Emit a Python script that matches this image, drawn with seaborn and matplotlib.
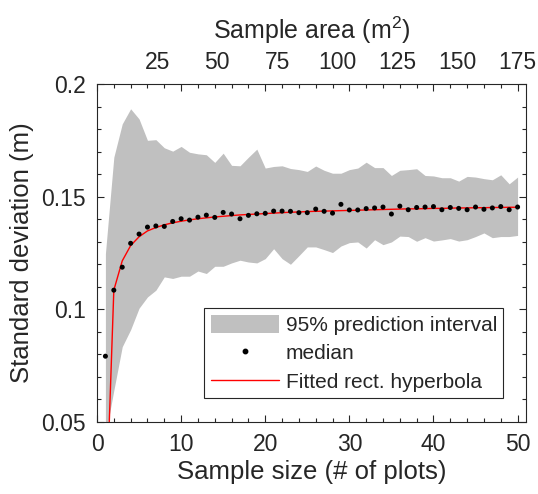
import matplotlib
matplotlib.use("Agg")
import matplotlib.pyplot as plt
from matplotlib.ticker import MultipleLocator, FuncFormatter, FixedLocator
from matplotlib.patches import Patch
from matplotlib.lines import Line2D
import seaborn as sns
import pandas as pd
import numpy as np

# ---------------- data ----------------
n_plots = list(range(1, 51))

median_sd = [0.0792, 0.1085, 0.1187, 0.1293, 0.1334, 0.1365, 0.1370, 0.1368, 0.1390, 0.1402,
             0.1396, 0.1409, 0.1418, 0.1408, 0.1430, 0.1423, 0.1402, 0.1417, 0.1424, 0.1426,
             0.1436, 0.1436, 0.1435, 0.1429, 0.1429, 0.1445, 0.1435, 0.1427, 0.1466, 0.1441,
             0.1441, 0.1447, 0.1450, 0.1454, 0.1423, 0.1458, 0.1442, 0.1452, 0.1454, 0.1456,
             0.1442, 0.1452, 0.1448, 0.1442, 0.1454, 0.1444, 0.1450, 0.1456, 0.1442, 0.1454]

fitted_sd = [0.0000, 0.1085, 0.1215, 0.1283, 0.1322, 0.1348, 0.1363, 0.1375, 0.1384, 0.1391,
             0.1397, 0.1402, 0.1406, 0.1410, 0.1413, 0.1416, 0.1419, 0.1421, 0.1423, 0.1425,
             0.1427, 0.1429, 0.1431, 0.1432, 0.1434, 0.1435, 0.1436, 0.1437, 0.1438, 0.1439,
             0.1440, 0.1441, 0.1442, 0.1443, 0.1444, 0.1445, 0.1446, 0.1446, 0.1447, 0.1448,
             0.1448, 0.1449, 0.1450, 0.1450, 0.1451, 0.1451, 0.1452, 0.1452, 0.1453, 0.1453]

upper_pi = [0.1247, 0.1675, 0.1823, 0.1890, 0.1845, 0.1750, 0.1753, 0.1717, 0.1702, 0.1723,
            0.1697, 0.1690, 0.1686, 0.1652, 0.1693, 0.1639, 0.1637, 0.1675, 0.1711, 0.1627,
            0.1634, 0.1637, 0.1625, 0.1620, 0.1612, 0.1636, 0.1617, 0.1604, 0.1604, 0.1620,
            0.1627, 0.1653, 0.1629, 0.1629, 0.1594, 0.1617, 0.1620, 0.1624, 0.1594, 0.1592,
            0.1584, 0.1584, 0.1569, 0.1590, 0.1587, 0.1580, 0.1575, 0.1597, 0.1557, 0.1587]

lower_pi = [0.0440, 0.0640, 0.0834, 0.0910, 0.1005, 0.1055, 0.1085, 0.1144, 0.1137, 0.1147,
            0.1147, 0.1170, 0.1159, 0.1191, 0.1191, 0.1206, 0.1218, 0.1210, 0.1206, 0.1225,
            0.1269, 0.1225, 0.1200, 0.1238, 0.1277, 0.1277, 0.1265, 0.1252, 0.1281, 0.1296,
            0.1299, 0.1272, 0.1309, 0.1287, 0.1299, 0.1325, 0.1323, 0.1302, 0.1318, 0.1303,
            0.1308, 0.1314, 0.1303, 0.1309, 0.1323, 0.1339, 0.1318, 0.1323, 0.1323, 0.1328]

area_per_plot = 3.5
top_ticks = [25, 50, 75, 100, 125, 150, 175]
y_ticks = [0.05, 0.1, 0.15, 0.2]
x_ticks = [0, 10, 20, 30, 40, 50]

df = pd.DataFrame({"n": n_plots, "median": median_sd, "fit": fitted_sd,
                   "lo": lower_pi, "hi": upper_pi})

# ---------------- style ----------------
sns.set_theme(style="ticks")
dark = "#262626"
plt.rcParams.update({
    "font.family": ["Liberation Sans", "DejaVu Sans"],
    "mathtext.default": "regular",
    "text.color": dark,
    "axes.labelcolor": dark,
    "axes.edgecolor": dark,
    "xtick.color": dark,
    "ytick.color": dark,
    "axes.linewidth": 0.8,
})

fig = plt.figure(figsize=(5.38, 4.94), dpi=100)
ax = fig.add_axes([97 / 538, 1 - 422 / 494, (526 - 97) / 538, (422 - 84) / 494])

band_color = "#c0c0c0"
ax.fill_between(df["n"], df["lo"], df["hi"], color=band_color, linewidth=0, zorder=1)
sns.lineplot(data=df, x="n", y="fit", ax=ax, color="#ff0000", linewidth=1.0, zorder=2)
sns.scatterplot(data=df, x="n", y="median", ax=ax, color="black", s=13,
                edgecolor="none", zorder=3)

ax.set_xlim(0, 51)
ax.set_ylim(0.05, 0.2)
ax.xaxis.set_major_locator(FixedLocator(x_ticks))
ax.xaxis.set_minor_locator(MultipleLocator(2))
ax.yaxis.set_major_locator(FixedLocator(y_ticks))
ax.yaxis.set_minor_locator(MultipleLocator(0.01))
ax.yaxis.set_major_formatter(FuncFormatter(lambda v, p: f"{v:g}"))
ax.tick_params(which="both", direction="in", top=True, right=True, labelsize=16.5, width=0.8)
ax.tick_params(which="major", length=5)
ax.tick_params(which="minor", length=3)
ax.tick_params(axis="x", pad=8)
ax.tick_params(axis="y", pad=8)

ax.set_xlabel("Sample size (# of plots)", fontsize=18.5, labelpad=3)
ax.set_ylabel("Standard deviation (m)", fontsize=18.5, labelpad=5)

sec = ax.secondary_xaxis("top", functions=(lambda n: n * area_per_plot,
                                           lambda a: a / area_per_plot))
sec.set_xticks(top_ticks)
sec.tick_params(length=0, labelsize=16.5, pad=7)
sec.set_xlabel("Sample area (m$^2$)", fontsize=18, va="bottom")
sec.xaxis.set_label_coords(0.5, 1.112, transform=ax.transAxes)
for s in sec.spines.values():
    s.set_visible(False)

handles = [Patch(facecolor=band_color, edgecolor="none"),
           Line2D([], [], linestyle="none", marker="o", color="black", markersize=3.2),
           Line2D([], [], color="#ff0000", linewidth=1.0)]
labels = ["95% prediction interval", "median", "Fitted rect. hyperbola"]
leg = ax.legend(handles, labels, loc="lower left", bbox_to_anchor=(0.250, 0.071),
                borderaxespad=0, fontsize=15, frameon=True, fancybox=False, framealpha=1,
                edgecolor=dark, handlelength=3.3, handleheight=1.0,
                handletextpad=0.3, labelspacing=0.38, borderpad=0.3)
leg.get_frame().set_linewidth(0.8)

fig.savefig("out.png", dpi=100)
